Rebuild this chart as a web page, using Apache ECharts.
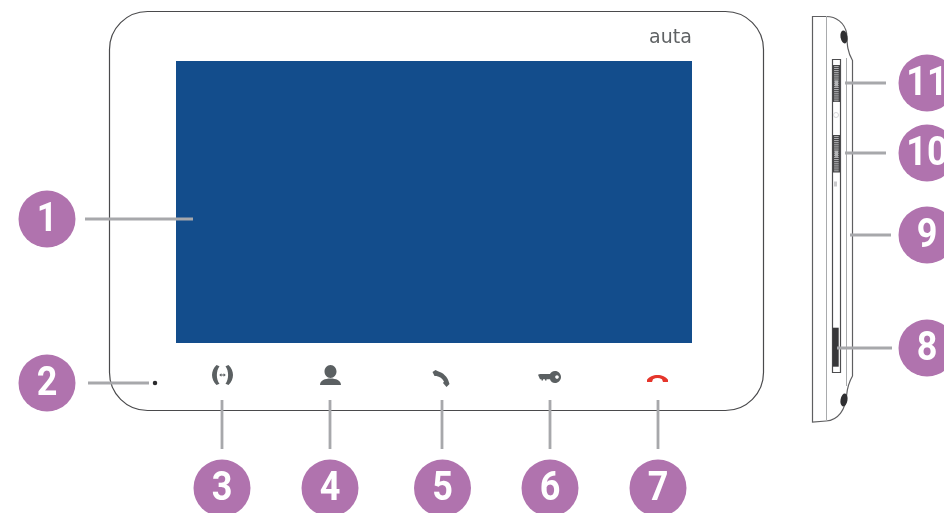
<!DOCTYPE html>
<html>
<head>
<meta charset="utf-8">
<style>html,body{margin:0;padding:0;background:#fff}#c{width:944px;height:513px}</style>
<script src="https://cdn.jsdelivr.net/npm/echarts@6/dist/echarts.min.js"></script>
</head>
<body>
<div id="c"></div>
<script>
// Numbered call-outs
var badgeLabels = ['1','2','3','4','5','6','7','8','9','10','11'];
var badgeX = [47,47,222,330,442.5,550,658,927,927,927,927];
var badgeY = [219,383,488,488,488,488,488,348,235,153,83];

// Leader lines
var leaderX1 = [85,88,222,330,442,550,658,837,850,845,845];
var leaderY1 = [219,383,400,400,400,400,400,348,235,153,83];
var leaderX2 = [193,149,222,330,442,550,658,892,891,886,886];
var leaderY2 = [219,383,449,449,449,449,449,348,235,153,83];

// Front panel: body, screen
var panelNames = ['body','screen'];
var panelLeft = [109.5,176];
var panelTop = [11.5,61];
var panelRight = [763.5,692];
var panelBottom = [410.5,343];

// Side view
var sideRailX = [826,846];
var sideRailTop = [16,58];
var sideRailBottom = [421,386];
var slotBox = [832.5,59.5,840.5,372.5];
var cardBox = [832.7,327.7,838.7,366.7];
var wheelTop = [65,135];
var wheelBottom = [102,172.5];
var wheelLeft = 832.8;
var wheelRight = 840;

// Icons
var iconNames = ['call','user','phone','key','hangup'];
var iconX = [222.5,330.5,441,549.5,657.5];
var iconY = [375,375,378.5,377,378.5];
var iconW = [21,21,17,23,21];
var iconH = [20,20,17,12,7];
var iconPaths = [
 'path://M4.5 0L7.5 1.2C4 6 4 14 7.5 18.8L4.5 20C-1.5 14 -1.5 6 4.5 0ZM16.5 0L13.5 1.2C17 6 17 14 13.5 18.8L16.5 20C22.5 14 22.5 6 16.5 0ZM7.2 10L9.4 8.3V9.5H11.6V8.3L13.8 10L11.6 11.7V10.5H9.4V11.7Z',
 'path://M10.5 0C14 0 16.5 3 16.5 6.5C16.5 10 14 13 10.5 13C7 13 4.5 10 4.5 6.5C4.5 3 7 0 10.5 0ZM0 20C0 15.5 5 13.5 10.5 13.5C16 13.5 21 15.5 21 20Z',
 'path://M0 2L3 0L5.5 1.2C10.5 2.5 15 7 16 11L17 14L14 17L10.5 13L11.5 11.5C10 8.5 7 6.5 4 6L2 6Z',
 'path://M0 3.8L2 3H12C12.5 1.5 14.5 0 17 0C20.3 0 23 2.7 23 6C23 9.3 20.3 12 17 12C14.5 12 12.5 10.5 12 8.2H8.5V9.5H7V8.2H5V9.5H3.5V8.2H2ZM19 4.2C18 4.2 17.2 5 17.2 6C17.2 7 18 7.8 19 7.8C20 7.8 20.8 7 20.8 6C20.8 5 20 4.2 19 4.2Z',
 'path://M0 5C4 -1 17 -1 21 5L21 7L16 7L15 4.5C12 3 9 3 6 4.5L5 7L0 7Z'
];
var iconColors = ['#5b6062','#5b6062','#5b6062','#5b6062','#e5352b'];

// Side outline and knobs
var sideOutline = 'M812 16L826 16C836 16 845 22 847 33C847.5 45 848 52 853 60L853 376C850 381 848 385 847 395C846 410 838 420 826 421L812 422Z';
var sideBox = [812.5,16.5,852.5,422];
var knobX = [844,844];
var knobY = [37,400];
var knobRotate = [10,-10];
var dotPoint = [155,383];
var brandPoint = [670.5,38];
var brandText = 'auta';
var markX = [836,835.5];
var markY = [115,184];

var chart = echarts.init(document.getElementById('c'), null, {renderer:'canvas'});

function boxShape(api, b){
  var a = api.coord([b[0],b[1]]), c = api.coord([b[2],b[3]]);
  return {x:a[0], y:a[1], width:c[0]-a[0], height:c[1]-a[1]};
}

chart.setOption({
  animation:false,
  backgroundColor:'#ffffff',
  grid:{left:0,right:0,top:0,bottom:0},
  xAxis:{type:'value',min:0,max:944,show:false},
  yAxis:{type:'value',min:0,max:513,inverse:true,show:false},
  series:[
    {type:'custom',coordinateSystem:'cartesian2d',silent:true,clip:false,
     data:panelNames.map(function(n,i){return [panelLeft[i],panelTop[i],panelRight[i],panelBottom[i],i];}),
     renderItem:function(p,api){
       var i=api.value(4);
       var s=boxShape(api,[api.value(0),api.value(1),api.value(2),api.value(3)]);
       if(i===0){ s.r=38; return {type:'rect',shape:s,style:{fill:'#fff',stroke:'#4a4a4c',lineWidth:1.2}}; }
       return {type:'rect',shape:s,style:{fill:'#134d8c'}};
     }},
    {type:'custom',silent:true,clip:false,z:2,
     data:[sideBox],
     renderItem:function(p,api){
       var s=boxShape(api,[api.value(0),api.value(1),api.value(2),api.value(3)]);
       return {type:'path',shape:{pathData:sideOutline,layout:'cover',x:s.x,y:s.y,width:s.width,height:s.height},
               style:{fill:'#fff',stroke:'#5f5f61',lineWidth:1.2}};
     }},
    {type:'custom',silent:true,clip:false,z:3,
     data:sideRailX.map(function(x,i){return [x,sideRailTop[i],sideRailBottom[i]];}),
     renderItem:function(p,api){
       var a=api.coord([api.value(0),api.value(1)]),b=api.coord([api.value(0),api.value(2)]);
       return {type:'line',shape:{x1:a[0]+0.5,y1:a[1],x2:b[0]+0.5,y2:b[1]},style:{stroke:'#a9abad',lineWidth:1}};
     }},
    {type:'custom',silent:true,clip:false,z:3,
     data:[slotBox,cardBox],
     renderItem:function(p,api){
       var i=p.dataIndex;
       var s=boxShape(api,[api.value(0),api.value(1),api.value(2),api.value(3)]);
       return i===0 ? {type:'rect',shape:s,style:{fill:'#fff',stroke:'#4d4d4f',lineWidth:1.2}}
                    : {type:'rect',shape:s,style:{fill:'#38383a'}};
     }},
    {type:'custom',silent:true,clip:false,z:4,
     data:wheelTop.map(function(t,i){return [wheelLeft,t,wheelRight,wheelBottom[i]];}),
     renderItem:function(p,api){
       var t=api.value(1),b=api.value(3),l=api.value(0),r=api.value(2);
       var kids=[{type:'rect',shape:boxShape(api,[l,t,r,b]),style:{fill:'#454547'}}];
       for(var y=t+1.2;y<b-0.8;y+=1.9){
         kids.push({type:'rect',shape:boxShape(api,[l+1.3,y,r-1.3,y+0.85]),style:{fill:'#c4c5c7'}});
       }
       var m=(t+b)/2;
       kids.push({type:'rect',shape:boxShape(api,[l+2,m-3,r-2,m+3]),style:{fill:'#b5b6b8'}});
       return {type:'group',children:kids};
     }},
    {type:'scatter',silent:true,clip:false,z:4,symbol:'circle',symbolSize:[5,5],
     itemStyle:{color:'#fff',borderColor:'#d5d5d7',borderWidth:1,opacity:1},
     data:[[markX[0],markY[0]]]},
    {type:'scatter',silent:true,clip:false,z:4,symbol:'rect',symbolSize:[3,5],
     itemStyle:{color:'#c9c9cb',opacity:1},
     data:[[markX[1],markY[1]]]},
    {type:'scatter',silent:true,clip:false,z:4,symbol:'circle',
     itemStyle:{color:'#2f2f31',opacity:1},
     data:knobX.map(function(x,i){return {value:[x,knobY[i]],symbolSize:[7,13],symbolRotate:knobRotate[i]};})},
    {type:'scatter',silent:true,clip:false,z:4,
     data:iconNames.map(function(n,i){return {name:n,value:[iconX[i],iconY[i]],symbol:iconPaths[i],symbolSize:[iconW[i],iconH[i]],itemStyle:{color:iconColors[i],opacity:1}};})},
    {type:'scatter',silent:true,clip:false,z:4,symbol:'circle',symbolSize:4.5,
     itemStyle:{color:'#2b2b2d',opacity:1},data:[dotPoint]},
    {type:'custom',silent:true,clip:false,z:4,
     data:[brandPoint],
     renderItem:function(p,api){
       var a=api.coord([api.value(0),api.value(1)]);
       return {type:'text',x:a[0],y:a[1],style:{text:brandText,fill:'#5f6264',font:'19px "DejaVu Sans"',textAlign:'center',textVerticalAlign:'middle'}};
     }},
    {type:'custom',silent:true,clip:false,z:5,
     data:leaderX1.map(function(x,i){return [x,leaderY1[i],leaderX2[i],leaderY2[i]];}),
     renderItem:function(p,api){
       var a=api.coord([api.value(0),api.value(1)]),b=api.coord([api.value(2),api.value(3)]);
       return {type:'line',shape:{x1:a[0],y1:a[1],x2:b[0],y2:b[1]},style:{stroke:'#a7a8ab',lineWidth:2.8}};
     }},
    {type:'scatter',silent:true,clip:false,z:6,symbol:'circle',symbolSize:57,
     itemStyle:{color:'#b073ae',opacity:1},
     data:badgeLabels.map(function(t,i){return {name:t,value:[badgeX[i],badgeY[i]]};})},
    {type:'custom',silent:true,clip:false,z:7,
     data:badgeLabels.map(function(t,i){return [badgeX[i],badgeY[i],i];}),
     renderItem:function(p,api){
       var a=api.coord([api.value(0),api.value(1)]);
       return {type:'text',x:a[0],y:a[1]+1.5,scaleX:0.9,
               style:{text:badgeLabels[api.value(2)],fill:'#fff',font:'bold 40px Roboto',textAlign:'center',textVerticalAlign:'middle'}};
     }}
  ]
});
</script>
</body>
</html>
